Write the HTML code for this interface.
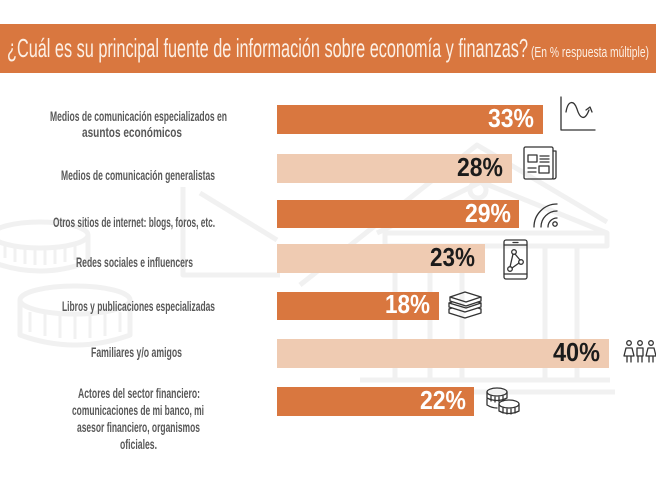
<!DOCTYPE html>
<html><head><meta charset="utf-8"><style>
html,body{margin:0;padding:0;background:#fff;}
svg{display:block;}
</style></head><body>
<svg width="656" height="492" viewBox="0 0 656 492" xmlns="http://www.w3.org/2000/svg">
<rect width="656" height="492" fill="#ffffff"/>
<!-- watermark -->
<g fill="none" stroke="#f1f1f1" stroke-width="5" stroke-linejoin="round">
  <path d="M183,187 V275 H280"/>
  <path d="M200,193 L277,240"/>
  <path d="M300,285 L477,145 L607,222"/>
  <path d="M377,233 L481,182 L607,233"/>
  <circle cx="478" cy="190" r="8"/>
  <path d="M385,233 H607 V246 H385 Z"/>
  <path d="M395,248 V378 M430,248 V378 M462,248 V378 M545,248 V378 M577,248 V378"/>
  <path d="M360,380 H610 M350,392 H615"/>
  <ellipse cx="40" cy="235" rx="48" ry="13"/>
  <path d="M-8,235 V262 Q40,280 88,262 V235"/>
  <ellipse cx="75" cy="300" rx="55" ry="14"/>
  <path d="M20,300 V335 Q75,355 130,335 V300"/>
</g>
<g stroke="#f1f1f1" stroke-width="3">
  <path d="M5,246 V258 M15,248 V262 M25,249 V264 M35,250 V265 M45,250 V265 M55,249 V264 M65,248 V262 M75,246 V260"/>
  <path d="M30,312 V332 M45,314 V336 M60,315 V338 M75,316 V339 M90,315 V338 M105,314 V336 M120,312 V332"/>
</g>

<!-- header -->
<rect x="0" y="24" width="656" height="49" fill="#D9773F"/>
<text x="7" y="57" font-family="Liberation Sans, sans-serif" font-size="26" fill="#FCEFE4" textLength="521" lengthAdjust="spacingAndGlyphs">¿Cuál es su principal fuente de información sobre economía y finanzas?</text>
<text x="531" y="57" font-family="Liberation Sans, sans-serif" font-size="15" fill="#FCEFE4" textLength="118" lengthAdjust="spacingAndGlyphs">(En % respuesta múltiple)</text>

<!-- labels -->
<g font-family="Liberation Sans, sans-serif" font-weight="bold" font-size="14" fill="#585858">
  <text x="50" y="121" textLength="177" lengthAdjust="spacingAndGlyphs">Medios de comunicación especializados en</text>
  <text x="82" y="137" textLength="100" lengthAdjust="spacingAndGlyphs">asuntos económicos</text>
  <text x="61" y="180" textLength="154" lengthAdjust="spacingAndGlyphs">Medios de comunicación generalistas</text>
  <text x="53" y="227" textLength="162" lengthAdjust="spacingAndGlyphs">Otros sitios de internet: blogs, foros, etc.</text>
  <text x="76" y="267" textLength="117" lengthAdjust="spacingAndGlyphs">Redes sociales e influencers</text>
  <text x="62" y="311" textLength="153" lengthAdjust="spacingAndGlyphs">Libros y publicaciones especializadas</text>
  <text x="91" y="357" textLength="91" lengthAdjust="spacingAndGlyphs">Familiares y/o amigos</text>
  <text x="78" y="398" textLength="122" lengthAdjust="spacingAndGlyphs">Actores del sector financiero:</text>
  <text x="72" y="415" textLength="132" lengthAdjust="spacingAndGlyphs">comunicaciones de mi banco, mi</text>
  <text x="77" y="432" textLength="123" lengthAdjust="spacingAndGlyphs">asesor financiero, organismos</text>
  <text x="120" y="449" textLength="37" lengthAdjust="spacingAndGlyphs">oficiales.</text>
</g>

<!-- bars -->
<rect x="277" y="105" width="266" height="29" fill="#D9773F"/>
<rect x="277" y="154" width="235" height="29" fill="#EFCBB2"/>
<rect x="277" y="200" width="242" height="28" fill="#D9773F"/>
<rect x="277" y="244" width="208" height="29" fill="#EFCBB2"/>
<rect x="277" y="292" width="162" height="28" fill="#D9773F"/>
<rect x="277" y="339" width="332" height="29" fill="#EFCBB2"/>
<rect x="277" y="387" width="197" height="29" fill="#D9773F"/>

<!-- values -->
<g font-family="Liberation Sans, sans-serif" font-weight="bold" font-size="26">
  <text x="488" y="127" fill="#ffffff" textLength="46" lengthAdjust="spacingAndGlyphs">33%</text>
  <text x="457" y="176" fill="#1b1b1b" textLength="46" lengthAdjust="spacingAndGlyphs">28%</text>
  <text x="465" y="222" fill="#ffffff" textLength="46" lengthAdjust="spacingAndGlyphs">29%</text>
  <text x="430" y="266" fill="#1b1b1b" textLength="45" lengthAdjust="spacingAndGlyphs">23%</text>
  <text x="385" y="313" fill="#ffffff" textLength="45" lengthAdjust="spacingAndGlyphs">18%</text>
  <text x="553" y="361" fill="#1b1b1b" textLength="47" lengthAdjust="spacingAndGlyphs">40%</text>
  <text x="420" y="409" fill="#ffffff" textLength="46" lengthAdjust="spacingAndGlyphs">22%</text>
</g>

<!-- icons -->
<g fill="none" stroke="#333333" stroke-width="1.3" stroke-linecap="round" stroke-linejoin="round">
  <!-- chart -->
  <path d="M561,97 V130 H595"/>
  <path d="M566,112 C568,100 574,100 577,109 C580,119 585,121 589,110"/>
  <path d="M586,110 L590,107 L592,112"/>
  <!-- newspaper -->
  <rect x="524" y="147" width="29" height="32" rx="1.5"/>
  <path d="M553,151 H556 V177 Q556,179 553,179"/>
  <rect x="528" y="155" width="9" height="7"/>
  <path d="M540,156 H549 M540,159 H549 M540,162 H549"/>
  <path d="M528,168 H536 M528,172 H536"/>
  <rect x="539" y="166" width="10" height="7"/>
  <!-- wifi -->
  <path d="M548,227 A9,9 0 0 1 557,218"/>
  <path d="M541,227 A16,16 0 0 1 557,211"/>
  <path d="M534,227 A23,23 0 0 1 557,204"/>
  <circle cx="555" cy="224" r="2.2"/>
  <!-- phone -->
  <rect x="504" y="240" width="23" height="39" rx="2"/>
  <path d="M504,245 H527 M504,274 H527 M513,242.5 H518"/>
  <circle cx="514" cy="252" r="2.3"/>
  <circle cx="521" cy="262" r="2.3"/>
  <circle cx="510" cy="269" r="2.3"/>
  <path d="M515,254 L520,260 M519,263 L512,268 M513,254 L510,267"/>
  <!-- books -->
  <path d="M450,297 L465,292 L481,297 L466,302 Z"/>
  <path d="M450,297 V301 L466,306 L481,301 V297"/>
  <path d="M449,303 V307 L465,312 L481,307 V303 L466,308 Z"/>
  <path d="M449,309 V313 L465,318 L481,313 V309"/>
  <path d="M452,302 L449,303 M478,302 L481,303 M452,308 L449,309 M478,308 L481,309"/>
  <!-- people -->
  <circle cx="629" cy="343" r="2.3"/>
  <circle cx="640" cy="343" r="2.3"/>
  <circle cx="651" cy="343" r="2.3"/>
  <path d="M626,348 H632 L634,356 H624 Z M627,356 V362 M631,356 V362"/>
  <path d="M637,348 H643 V356 H637 Z M638,356 V362 M642,356 V362"/>
  <path d="M648,348 H654 L656,356 H646 Z M649,356 V362 M653,356 V362"/>
  <!-- coins -->
  <ellipse cx="497" cy="392" rx="10" ry="4"/>
  <path d="M487,392 V398 Q497,403 507,398 V392"/>
  <path d="M487,399 V405 Q492,408 497,408"/>
  <ellipse cx="509" cy="404" rx="10" ry="4"/>
  <path d="M499,404 V411 Q509,416 519,411 V404"/>
  <path d="M491,396 V401 M495,397 V402 M499,397 V402 M503,396 V401 M503,408 V413 M507,409 V414 M511,409 V414 M515,408 V413"/>
</g>
</svg>
</body></html>
